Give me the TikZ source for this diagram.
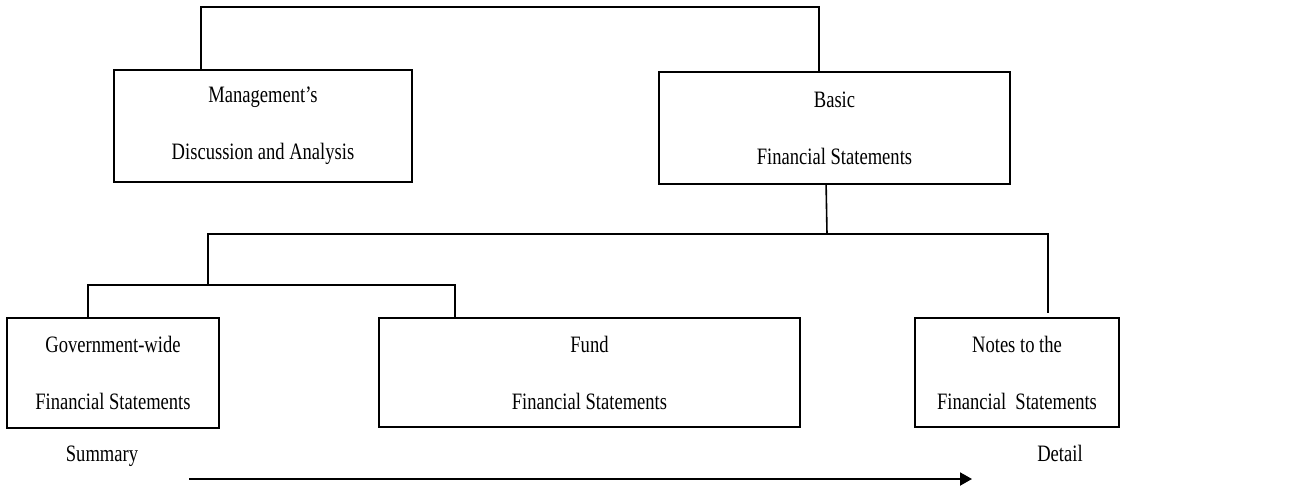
\documentclass[tikz,border=0pt]{standalone}
\usepackage{fontspec}
\setmainfont{Liberation Serif}[FakeStretch=0.79]
\usetikzlibrary{arrows.meta}
\begin{document}
\begin{tikzpicture}[x=1pt,y=-1pt,
  box/.style={draw, line width=1.8pt, inner sep=0pt, align=center,
    font=\fontsize{23.5}{57}\selectfont},
  lbl/.style={inner sep=0pt, font=\fontsize{23.5}{28}\selectfont},
  conn/.style={line width=1.6pt},
  arr/.style={line width=2pt, -{Triangle[length=12pt,width=13pt]}}]
\useasboundingbox (0,0) rectangle (1306,487);
\node[box, minimum width=298pt, minimum height=112pt] (mda) at (263,126) {Management’s\\Discussion and Analysis};
\node[box, minimum width=351pt, minimum height=112pt] (basic) at (834.5,128) {Basic\\Financial Statements};
\node[box, minimum width=212pt, minimum height=110pt] (gov) at (113,373) {Government-wide\\Financial Statements};
\node[box, minimum width=421pt, minimum height=109pt] (fund) at (589.5,372.5) {Fund\\Financial Statements};
\node[box, minimum width=204pt, minimum height=109pt] (notes) at (1017,372.5) {Notes to the\\Financial\ \ Statements};
\node[lbl, anchor=base] (summary) at (102,461) {Summary};
\node[lbl, anchor=base] (detail) at (1060,461) {Detail};
\coordinate (top) at (500,7);
\coordinate (mid) at (827,234);
\coordinate (midL) at (208,234);
\coordinate (split) at (208,285);
\coordinate (arrS) at (189,479);
\coordinate (arrE) at (972,479);
\draw[conn] ([xshift=88pt]mda.north west) |- (top) -| ([xshift=161pt]basic.north west);
\draw[conn] ([xshift=168pt]basic.south west) -- (mid);
\draw[conn] (mid) -| ([xshift=134pt,yshift=4pt]notes.north west);
\draw[conn] (mid) -- (midL) -- (split);
\draw[conn] ([xshift=82pt]gov.north west) |- (split) -| ([xshift=77pt]fund.north west);
\draw[arr] (arrS) -- (arrE);
\end{tikzpicture}
\end{document}
